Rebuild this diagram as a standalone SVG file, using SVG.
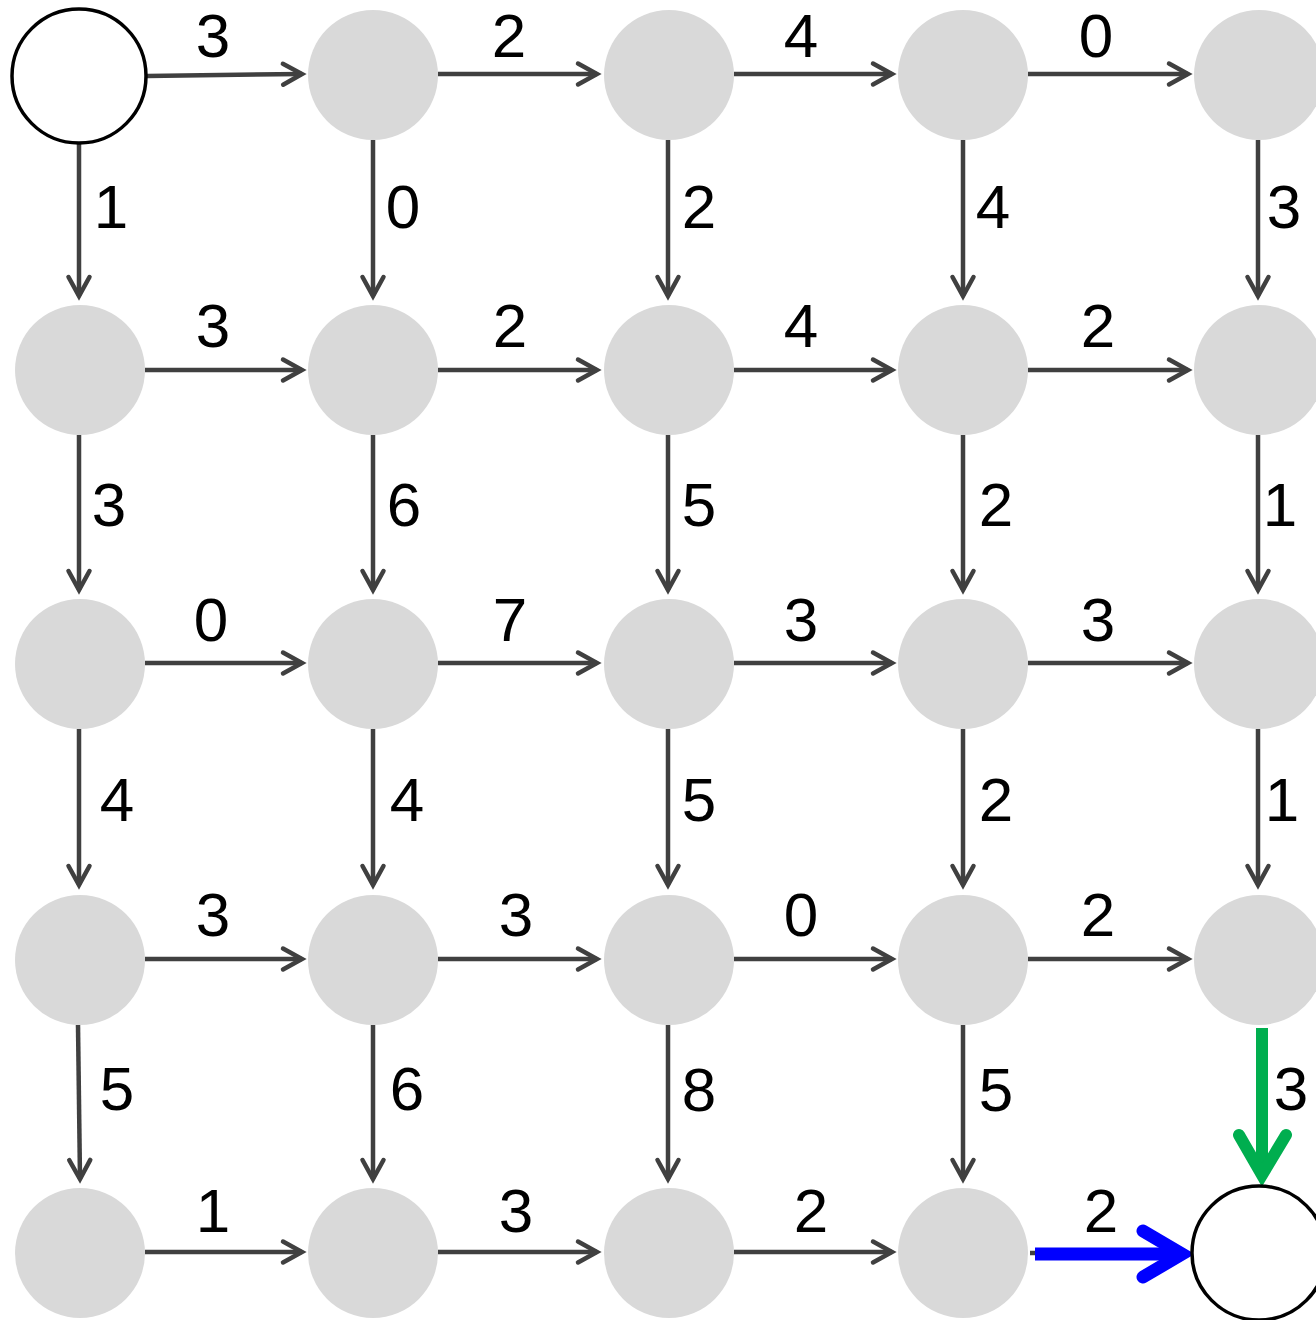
<svg xmlns="http://www.w3.org/2000/svg" width="1316" height="1320" viewBox="0 0 1316 1320">
<style>
  .n { fill: #d9d9d9; }
  .end { fill: #ffffff; stroke: #000000; stroke-width: 3.5; }
  .e { stroke: #404040; stroke-width: 4.5; fill: none; marker-end: url(#arr); }
  .lbl { font-family: "Liberation Sans", Arial, Helvetica, sans-serif; font-size: 62px; fill: #000000; text-anchor: middle; }
</style>
<defs>
  <marker id="arr" markerUnits="userSpaceOnUse" orient="auto" refX="0" refY="0" markerWidth="40" markerHeight="40" overflow="visible">
    <path d="M-19,-10.5 L0,0 L-19,10.5" fill="none" stroke="#404040" stroke-width="4.5" stroke-linecap="round" stroke-linejoin="miter"/>
  </marker>
</defs>
<rect width="1316" height="1320" fill="#ffffff"/>

<g id="connectors">
  <!-- row 0 horizontal -->
  <line class="e" x1="147" y1="76" x2="302" y2="74"/>
  <line class="e" x1="438" y1="74" x2="597" y2="74"/>
  <line class="e" x1="734" y1="74" x2="892" y2="74"/>
  <line class="e" x1="1028" y1="74" x2="1188" y2="74"/>
  <!-- row 1 horizontal -->
  <line class="e" x1="145" y1="370" x2="302" y2="370"/>
  <line class="e" x1="438" y1="370" x2="597" y2="370"/>
  <line class="e" x1="734" y1="370" x2="892" y2="370"/>
  <line class="e" x1="1028" y1="370" x2="1188" y2="370"/>
  <!-- row 2 horizontal -->
  <line class="e" x1="145" y1="663" x2="302" y2="663"/>
  <line class="e" x1="438" y1="663" x2="597" y2="663"/>
  <line class="e" x1="734" y1="663" x2="892" y2="663"/>
  <line class="e" x1="1028" y1="663" x2="1188" y2="663"/>
  <!-- row 3 horizontal -->
  <line class="e" x1="145" y1="959" x2="302" y2="959"/>
  <line class="e" x1="438" y1="959" x2="597" y2="959"/>
  <line class="e" x1="734" y1="959" x2="892" y2="959"/>
  <line class="e" x1="1028" y1="959" x2="1188" y2="959"/>
  <!-- row 4 horizontal -->
  <line class="e" x1="145" y1="1252" x2="302" y2="1252"/>
  <line class="e" x1="438" y1="1252" x2="597" y2="1252"/>
  <line class="e" x1="734" y1="1252" x2="892" y2="1252"/>

  <!-- vertical rows 0-1 -->
  <line class="e" x1="79" y1="144" x2="79" y2="296"/>
  <line class="e" x1="373" y1="140" x2="373" y2="296"/>
  <line class="e" x1="668" y1="140" x2="668" y2="296"/>
  <line class="e" x1="963" y1="140" x2="963" y2="296"/>
  <line class="e" x1="1258" y1="140" x2="1258" y2="296"/>
  <!-- vertical rows 1-2 -->
  <line class="e" x1="79" y1="435" x2="79" y2="590"/>
  <line class="e" x1="373" y1="435" x2="373" y2="590"/>
  <line class="e" x1="668" y1="435" x2="668" y2="590"/>
  <line class="e" x1="963" y1="435" x2="963" y2="590"/>
  <line class="e" x1="1258" y1="435" x2="1258" y2="590"/>
  <!-- vertical rows 2-3 -->
  <line class="e" x1="79" y1="729" x2="79" y2="885"/>
  <line class="e" x1="373" y1="729" x2="373" y2="885"/>
  <line class="e" x1="668" y1="729" x2="668" y2="885"/>
  <line class="e" x1="963" y1="729" x2="963" y2="885"/>
  <line class="e" x1="1258" y1="729" x2="1258" y2="885"/>
  <!-- vertical rows 3-4 -->
  <line class="e" x1="78" y1="1025" x2="80" y2="1179"/>
  <line class="e" x1="373" y1="1025" x2="373" y2="1179"/>
  <line class="e" x1="668" y1="1025" x2="668" y2="1179"/>
  <line class="e" x1="963" y1="1025" x2="963" y2="1179"/>

  <!-- highlighted path -->
  <g id="green-edge" stroke="#00ae4f" stroke-width="12" fill="none">
    <line x1="1262" y1="1028" x2="1262" y2="1170"/>
    <path d="M1239,1135 L1262,1175 L1286,1135" stroke-linecap="round" stroke-linejoin="miter" stroke-miterlimit="10"/>
  </g>
  <g id="blue-edge" fill="none">
    <line x1="1030" y1="1253" x2="1036" y2="1253" stroke="#404040" stroke-width="4.5"/>
    <line x1="1035" y1="1254" x2="1176" y2="1254" stroke="#0000ff" stroke-width="13"/>
    <path d="M1143,1231 L1182,1254 L1143,1277" stroke="#0000ff" stroke-width="13" stroke-linecap="round" stroke-linejoin="miter" stroke-miterlimit="10"/>
  </g>
</g>

<g id="edge-labels" class="lbl">
  <text class="lbl" x="213" y="57">3</text>
  <text class="lbl" x="509" y="57">2</text>
  <text class="lbl" x="801" y="57">4</text>
  <text class="lbl" x="1096" y="57">0</text>

  <text class="lbl" x="213" y="347">3</text>
  <text class="lbl" x="510" y="347">2</text>
  <text class="lbl" x="801" y="347">4</text>
  <text class="lbl" x="1098" y="347">2</text>

  <text class="lbl" x="211" y="641">0</text>
  <text class="lbl" x="510" y="641">7</text>
  <text class="lbl" x="801" y="641">3</text>
  <text class="lbl" x="1098" y="641">3</text>

  <text class="lbl" x="213" y="936">3</text>
  <text class="lbl" x="516" y="936">3</text>
  <text class="lbl" x="801" y="936">0</text>
  <text class="lbl" x="1098" y="936">2</text>

  <text class="lbl" x="213" y="1232">1</text>
  <text class="lbl" x="516" y="1232">3</text>
  <text class="lbl" x="811" y="1232">2</text>
  <text class="lbl" x="1101" y="1232">2</text>

  <text class="lbl" x="111" y="228">1</text>
  <text class="lbl" x="403" y="228">0</text>
  <text class="lbl" x="699" y="228">2</text>
  <text class="lbl" x="993" y="228">4</text>
  <text class="lbl" x="1284" y="228">3</text>

  <text class="lbl" x="109" y="526">3</text>
  <text class="lbl" x="404" y="526">6</text>
  <text class="lbl" x="699" y="526">5</text>
  <text class="lbl" x="996" y="526">2</text>
  <text class="lbl" x="1280" y="526">1</text>

  <text class="lbl" x="117" y="821">4</text>
  <text class="lbl" x="407" y="821">4</text>
  <text class="lbl" x="699" y="821">5</text>
  <text class="lbl" x="996" y="821">2</text>
  <text class="lbl" x="1282" y="821">1</text>

  <text class="lbl" x="117" y="1110">5</text>
  <text class="lbl" x="407" y="1110">6</text>
  <text class="lbl" x="699" y="1111">8</text>
  <text class="lbl" x="996" y="1111">5</text>
  <text class="lbl" x="1291" y="1110">3</text>
</g>

<g id="nodes">
  <g id="start"><circle class="end" cx="79" cy="76" r="67"/></g>
  <g id="n-0-1"><circle class="n" cx="373" cy="75" r="65"/></g>
  <g id="n-0-2"><circle class="n" cx="669" cy="75" r="65"/></g>
  <g id="n-0-3"><circle class="n" cx="963" cy="75" r="65"/></g>
  <g id="n-0-4"><circle class="n" cx="1259" cy="75" r="65"/></g>

  <g id="n-1-0"><circle class="n" cx="80" cy="370" r="65"/></g>
  <g id="n-1-1"><circle class="n" cx="373" cy="370" r="65"/></g>
  <g id="n-1-2"><circle class="n" cx="669" cy="370" r="65"/></g>
  <g id="n-1-3"><circle class="n" cx="963" cy="370" r="65"/></g>
  <g id="n-1-4"><circle class="n" cx="1259" cy="370" r="65"/></g>

  <g id="n-2-0"><circle class="n" cx="80" cy="664" r="65"/></g>
  <g id="n-2-1"><circle class="n" cx="373" cy="664" r="65"/></g>
  <g id="n-2-2"><circle class="n" cx="669" cy="664" r="65"/></g>
  <g id="n-2-3"><circle class="n" cx="963" cy="664" r="65"/></g>
  <g id="n-2-4"><circle class="n" cx="1259" cy="664" r="65"/></g>

  <g id="n-3-0"><circle class="n" cx="80" cy="960" r="65"/></g>
  <g id="n-3-1"><circle class="n" cx="373" cy="960" r="65"/></g>
  <g id="n-3-2"><circle class="n" cx="669" cy="960" r="65"/></g>
  <g id="n-3-3"><circle class="n" cx="963" cy="960" r="65"/></g>
  <g id="n-3-4"><circle class="n" cx="1259" cy="960" r="65"/></g>

  <g id="n-4-0"><circle class="n" cx="80" cy="1253" r="65"/></g>
  <g id="n-4-1"><circle class="n" cx="373" cy="1253" r="65"/></g>
  <g id="n-4-2"><circle class="n" cx="669" cy="1253" r="65"/></g>
  <g id="n-4-3"><circle class="n" cx="963" cy="1253" r="65"/></g>
  <g id="end"><circle class="end" cx="1259" cy="1253" r="67"/></g>
</g>
</svg>
